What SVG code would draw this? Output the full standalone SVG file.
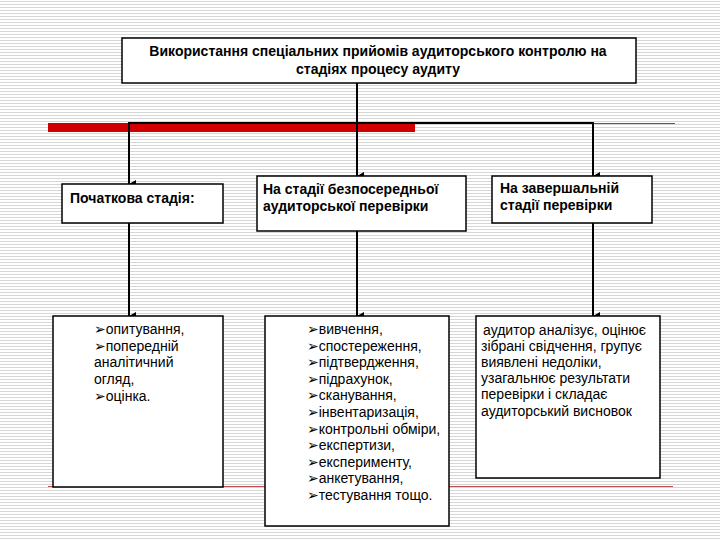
<svg xmlns="http://www.w3.org/2000/svg" width="720" height="540" viewBox="0 0 720 540">
  <defs>
    <pattern id="stripes" width="8" height="3" patternUnits="userSpaceOnUse">
      <rect x="0" y="0" width="8" height="3" fill="#ffffff"/>
      <rect x="0" y="1" width="8" height="1" fill="#d6d6d6"/>
    </pattern>
    <marker id="arr" markerWidth="8" markerHeight="8" refX="4" refY="7" orient="auto-start-reverse" markerUnits="userSpaceOnUse" viewBox="0 0 8 8">
      <path d="M0,0 L8,0 L4,7 Z" fill="#000"/>
    </marker>
    <style>
      .box { fill: #ffffff; stroke: #000000; stroke-width: 1.5; }
      .conn { stroke: #000000; stroke-width: 2; fill: none; }
      .hdr { font-family: "Liberation Sans", Arial, sans-serif; font-size: 14px; font-weight: bold; fill: #000; }
      .txt { font-family: "Liberation Sans", "DejaVu Sans", Arial, sans-serif; font-size: 14px; fill: #000; }
    </style>
  </defs>

  <rect x="0" y="0" width="720" height="540" fill="url(#stripes)"/>

  <!-- decorative bars -->
  <rect x="48" y="123" width="367" height="9" fill="#d00000"/>
  <line x1="593" y1="123.5" x2="675" y2="123.5" stroke="#b03030" stroke-width="1"/>
  <line x1="48" y1="486.5" x2="673" y2="486.5" stroke="#c05050" stroke-width="1"/>

  <g id="connectors">
    <line class="conn" x1="129" y1="123" x2="593" y2="123"/>
    <line class="conn" x1="357" y1="83" x2="357" y2="176" marker-end="url(#arr)"/>
    <line class="conn" x1="129" y1="122" x2="129" y2="184" marker-end="url(#arr)"/>
    <line class="conn" x1="593" y1="122" x2="593" y2="176" marker-end="url(#arr)"/>
    <line class="conn" x1="129" y1="223" x2="129" y2="316" marker-end="url(#arr)"/>
    <line class="conn" x1="357" y1="231" x2="357" y2="316" marker-end="url(#arr)"/>
    <line class="conn" x1="593" y1="223" x2="593" y2="316" marker-end="url(#arr)"/>
  </g>

  <g id="title">
    <rect class="box" x="122" y="38" width="514" height="45"/>
    <text class="hdr" x="378" y="56" text-anchor="middle">Використання спеціальних прийомів аудиторського контролю на</text>
    <text class="hdr" x="378" y="74" text-anchor="middle">стадіях процесу аудиту</text>
  </g>

  <g id="stage1">
    <rect class="box" x="62" y="184" width="161" height="39"/>
    <text class="hdr" x="70" y="203">Початкова стадія:</text>
  </g>

  <g id="stage2">
    <rect class="box" x="257" y="176" width="209" height="55"/>
    <text class="hdr" x="263" y="194">На стадії безпосередньої</text>
    <text class="hdr" x="263" y="211">аудиторської перевірки</text>
  </g>

  <g id="stage3">
    <rect class="box" x="492" y="176" width="160" height="47"/>
    <text class="hdr" x="500" y="193">На завершальній</text>
    <text class="hdr" x="500" y="210">стадії перевірки</text>
  </g>

  <g id="methods1">
    <rect class="box" x="53" y="316" width="170" height="171"/>
    <text class="txt">
      <tspan x="94" y="334">➢опитування,</tspan>
      <tspan x="94" y="350.7">➢попередній</tspan>
      <tspan x="94" y="367.4">аналітичний</tspan>
      <tspan x="94" y="384.1">огляд,</tspan>
      <tspan x="94" y="400.8">➢оцінка.</tspan>
    </text>
  </g>

  <g id="methods2">
    <rect class="box" x="265" y="316" width="184" height="210"/>
    <text class="txt">
      <tspan x="307" y="334">➢вивчення,</tspan>
      <tspan x="307" y="350.6">➢спостереження,</tspan>
      <tspan x="307" y="367.2">➢підтвердження,</tspan>
      <tspan x="307" y="383.8">➢підрахунок,</tspan>
      <tspan x="307" y="400.4">➢сканування,</tspan>
      <tspan x="307" y="417">➢інвентаризація,</tspan>
      <tspan x="307" y="433.6">➢контрольні обміри,</tspan>
      <tspan x="307" y="450.2">➢експертизи,</tspan>
      <tspan x="307" y="466.8">➢експерименту,</tspan>
      <tspan x="307" y="483.4">➢анкетування,</tspan>
      <tspan x="307" y="500">➢тестування тощо.</tspan>
    </text>
  </g>

  <g id="methods3">
    <rect class="box" x="476" y="316" width="184" height="162"/>
    <text class="txt">
      <tspan x="483" y="334.5"> аудитор аналізує, оцінює</tspan>
      <tspan x="481" y="350.7">зібрані свідчення, групує</tspan>
      <tspan x="481" y="366.9">виявлені недоліки,</tspan>
      <tspan x="481" y="383.1">узагальнює результати</tspan>
      <tspan x="481" y="399.3">перевірки і складає</tspan>
      <tspan x="481" y="415.5">аудиторський висновок</tspan>
    </text>
  </g>
</svg>
